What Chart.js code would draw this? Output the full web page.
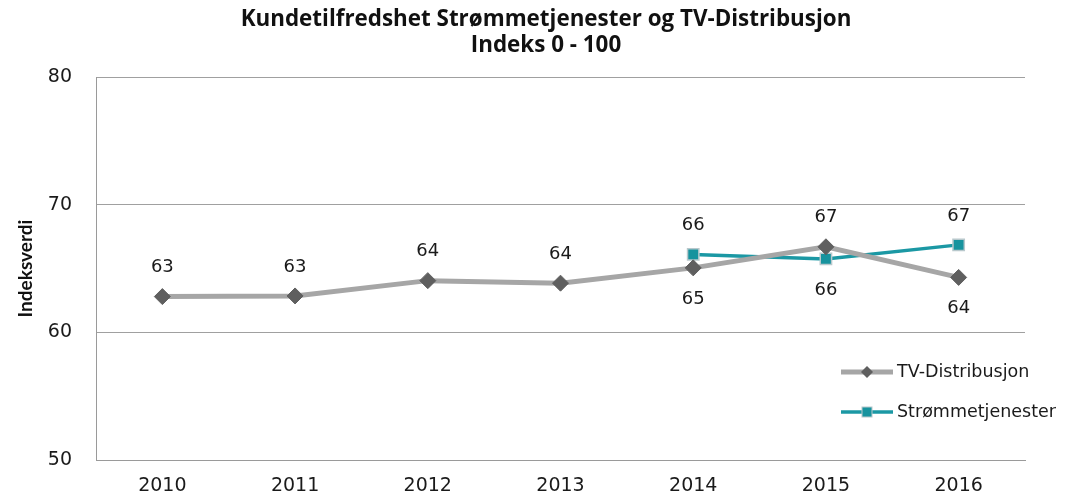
<!DOCTYPE html>
<html><head><meta charset="utf-8">
<script src="https://cdn.jsdelivr.net/npm/chart.js@4.4.1/dist/chart.umd.min.js"></script>
<style>html,body{margin:0;padding:0;background:#fff}#wrap{width:1072px;height:498px}</style>
</head><body><div id="wrap"><canvas id="c" width="1072" height="498"></canvas></div>
<script>
const categories = ['2010','2011','2012','2013','2014','2015','2016'];
const tvValues = [62.8, 62.85, 64.05, 63.85, 65.05, 66.7, 64.3];
const streamValues = [null, null, null, null, 66.1, 65.75, 66.85];
const yTicks = [50, 60, 70, 80];
const tvLabelSide = ['up','up','up','up','down','up','down'];
const streamLabelSide = [null,null,null,null,'up','down','up'];
const titleLines = ['Kundetilfredshet Strømmetjenester og TV-Distribusjon', 'Indeks 0 - 100'];

const TXT = '#1a1a1a';
const FONT = "'DejaVu Sans', 'Open Sans', sans-serif";

const titlePlugin = {
  id: 'topTitle',
  afterDraw(chart) {
    const ctx = chart.ctx;
    ctx.save();
    ctx.font = "bold 22.4px 'Open Sans', Lato, sans-serif";
    ctx.fillStyle = '#111';
    ctx.textAlign = 'center';
    ctx.textBaseline = 'middle';
    titleLines.forEach((t, i) => ctx.fillText(t, 546, 20 + i * 26));
    ctx.restore();
  }
};

const labelPlugin = {
  id: 'valueLabels',
  afterDatasetsDraw(chart) {
    const ctx = chart.ctx;
    ctx.save();
    ctx.font = "18px " + FONT;
    ctx.fillStyle = TXT;
    ctx.textAlign = 'center';
    ctx.textBaseline = 'middle';
    chart.data.datasets.forEach((ds, di) => {
      const meta = chart.getDatasetMeta(di);
      const sides = ds.labelSide;
      meta.data.forEach((pt, i) => {
        const v = ds.data[i];
        if (v == null) return;
        const off = sides[i] === 'up' ? -29 : 31;
        ctx.fillText(Math.round(v).toString(), pt.x, pt.y + off);
      });
    });
    ctx.restore();
  }
};

const legendPlugin = {
  id: 'innerLegend',
  afterDraw(chart) {
    const ctx = chart.ctx;
    const a = chart.chartArea;
    ctx.save();
    const items = chart.data.datasets;
    items.forEach((ds, i) => {
      const y = a.top + 295 + i * 40;
      const x0 = a.right - 184, x1 = x0 + 52, xm = (x0 + x1) / 2;
      ctx.strokeStyle = ds.borderColor;
      ctx.lineWidth = ds.borderWidth;
      ctx.beginPath(); ctx.moveTo(x0, y); ctx.lineTo(x1, y); ctx.stroke();
      ctx.fillStyle = ds.pointBackgroundColor;
      ctx.strokeStyle = ds.pointBorderColor;
      ctx.lineWidth = 1;
      if (ds.pointStyle === 'rectRot') {
        ctx.beginPath(); ctx.moveTo(xm, y - 6); ctx.lineTo(xm + 6, y); ctx.lineTo(xm, y + 6); ctx.lineTo(xm - 6, y); ctx.closePath(); ctx.fill();
      } else {
        ctx.fillRect(xm - 5, y - 5, 10, 10); ctx.strokeRect(xm - 5, y - 5, 10, 10);
      }
      ctx.fillStyle = TXT;
      ctx.font = "17.5px " + FONT;
      ctx.textAlign = 'left';
      ctx.textBaseline = 'middle';
      ctx.fillText(ds.label, x1 + 4, y);
    });
    ctx.restore();
  }
};

new Chart(document.getElementById('c'), {
  type: 'line',
  data: {
    labels: categories,
    datasets: [
      {
        label: 'TV-Distribusjon', data: tvValues, labelSide: tvLabelSide,
        borderColor: '#a6a6a6', borderWidth: 5,
        pointStyle: 'rectRot', pointRadius: 8, pointHoverRadius: 8,
        pointBackgroundColor: '#5f5f5f', pointBorderColor: '#5f5f5f', pointBorderWidth: 1,
        tension: 0, spanGaps: false
      },
      {
        label: 'Strømmetjenester', data: streamValues, labelSide: streamLabelSide,
        borderColor: '#1b98a4', borderWidth: 3.5,
        pointStyle: 'rect', pointRadius: 8, pointHoverRadius: 8,
        pointBackgroundColor: '#17939e', pointBorderColor: '#b8c8cc', pointBorderWidth: 1.5,
        tension: 0, spanGaps: false
      }
    ]
  },
  options: {
    responsive: false, animation: false,
    layout: { padding: { left: 0, right: 47, top: 77, bottom: 0 } },
    plugins: {
      legend: { display: false },
      tooltip: { enabled: false },
      title: { display: false }
    },
    scales: {
      x: {
        offset: true,
        grid: { display: false, drawTicks: false },
        border: { display: true, color: '#9a9a9a', width: 1 },
        ticks: { color: TXT, font: { family: FONT, size: 19 }, padding: 15 },
        afterFit(s) { s.height = 38; }
      },
      y: {
        min: 50, max: 80,
        afterBuildTicks(s) { s.ticks = yTicks.map(v => ({ value: v })); },
        grid: { color: '#a0a0a0', lineWidth: 1, drawTicks: false },
        border: { display: true, color: '#9a9a9a', width: 1 },
        ticks: { color: TXT, font: { family: FONT, size: 19 }, padding: 24 },
        title: { display: true, text: 'Indeksverdi', color: '#111',
          font: { family: "Lato, 'Open Sans', sans-serif", size: 19, weight: 'bold' }, padding: { top: 14, bottom: 0 } },
        afterFit(s) { s.width = 96; }
      }
    }
  },
  plugins: [labelPlugin, legendPlugin, titlePlugin]
});
</script>
</body></html>
